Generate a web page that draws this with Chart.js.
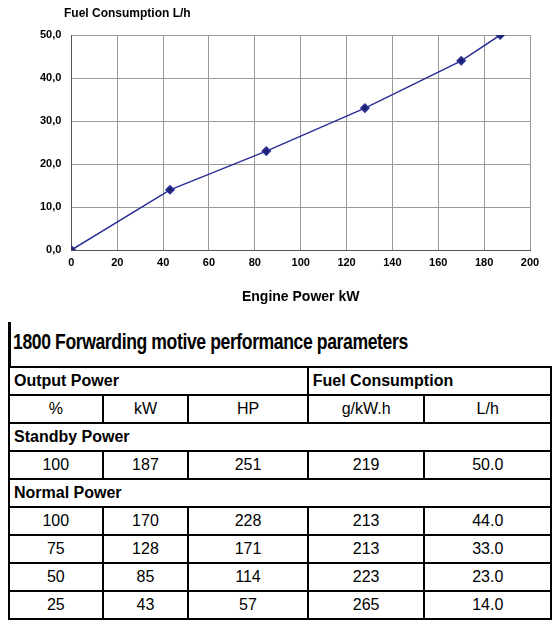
<!DOCTYPE html>
<html><head><meta charset="utf-8">
<script src="https://cdn.jsdelivr.net/npm/chart.js@4/dist/chart.umd.min.js"></script>
<style>
body{margin:0;background:#fff;font-family:"Liberation Sans",Arial,sans-serif;}
#wrap{position:absolute;left:0;top:0;width:560px;height:318px;}
#ttl{position:absolute;left:64px;top:6px;font-weight:bold;font-size:12px;}
#tbl{position:absolute;left:8px;top:322px;width:544px;}
#tbl h2{margin:0;font-family:"Liberation Sans",sans-serif;font-size:22px;font-weight:bold;height:44px;line-height:40px;border-left:3px solid #000;padding-left:2px;white-space:nowrap;}
#tbl h2 span{display:inline-block;transform:scaleX(0.8);transform-origin:left center;letter-spacing:-0.5px;}
table{border-collapse:collapse;width:544px;font-size:16px;}
td{border:2px solid #000;text-align:center;height:26px;padding:0;}
td.l{text-align:left;font-weight:bold;padding-left:4px;}
</style></head><body>
<div id="wrap"><canvas id="c"></canvas></div>
<div id="ttl">Fuel Consumption L/h</div>
<div id="tbl">
<h2><span>1800 Forwarding motive performance parameters</span></h2>
<table id="t"></table>
</div>
<script>
const powerKW=[0,43,85,128,170,187];
const fuelLh=[0,14,23,33,44,50];
const xTicks=[0,20,40,60,80,100,120,140,160,180,200];
const yTicks=[0,10,20,30,40,50];
const header1=["Output Power","Fuel Consumption"];
const header2=["%","kW","HP","g/kW.h","L/h"];
const standbyRows=[["100","187","251","219","50.0"]];
const normalRows=[["100","170","228","213","44.0"],["75","128","171","213","33.0"],["50","85","114","223","23.0"],["25","43","57","265","14.0"]];
const colW=[94,86,120,117,127];

let h='<colgroup>'+colW.map(w=>'<col style="width:'+w+'px">').join('')+'</colgroup>';
h+='<tr><td class="l" colspan="3">'+header1[0]+'</td><td class="l" colspan="2">'+header1[1]+'</td></tr>';
h+='<tr>'+header2.map(x=>'<td>'+x+'</td>').join('')+'</tr>';
h+='<tr><td class="l" colspan="5">Standby Power</td></tr>';
standbyRows.forEach(r=>h+='<tr>'+r.map(x=>'<td>'+x+'</td>').join('')+'</tr>');
h+='<tr><td class="l" colspan="5">Normal Power</td></tr>';
normalRows.forEach(r=>h+='<tr>'+r.map(x=>'<td>'+x+'</td>').join('')+'</tr>');
document.getElementById('t').innerHTML=h;

new Chart(document.getElementById('c'),{type:'line',
data:{datasets:[{data:powerKW.map((x,i)=>({x:x,y:fuelLh[i]})),borderColor:'#2b2f96',backgroundColor:'#1d2270',borderWidth:1.5,pointStyle:'rectRot',pointRadius:4,tension:0}]},
options:{responsive:true,maintainAspectRatio:false,animation:false,
layout:{padding:{left:30,right:30,top:35,bottom:8}},
plugins:{legend:{display:false},tooltip:{enabled:false}},
scales:{
x:{type:'linear',min:0,max:200,afterBuildTicks:a=>{a.ticks=xTicks.map(v=>({value:v}))},
 grid:{color:'#999',drawTicks:false},border:{color:'#555'},
 ticks:{color:'#000',font:{size:11,weight:'bold'},padding:6},
 title:{display:true,text:'Engine Power kW',color:'#000',font:{size:14,weight:'bold'},padding:{top:14}}},
y:{min:0,max:50,afterBuildTicks:a=>{a.ticks=yTicks.map(v=>({value:v}))},
 grid:{color:'#999',drawTicks:false},border:{color:'#555'},
 ticks:{color:'#000',font:{size:11,weight:'bold'},padding:10,callback:v=>v.toFixed(1).replace('.',',')}}
}}});
</script>
</body></html>
